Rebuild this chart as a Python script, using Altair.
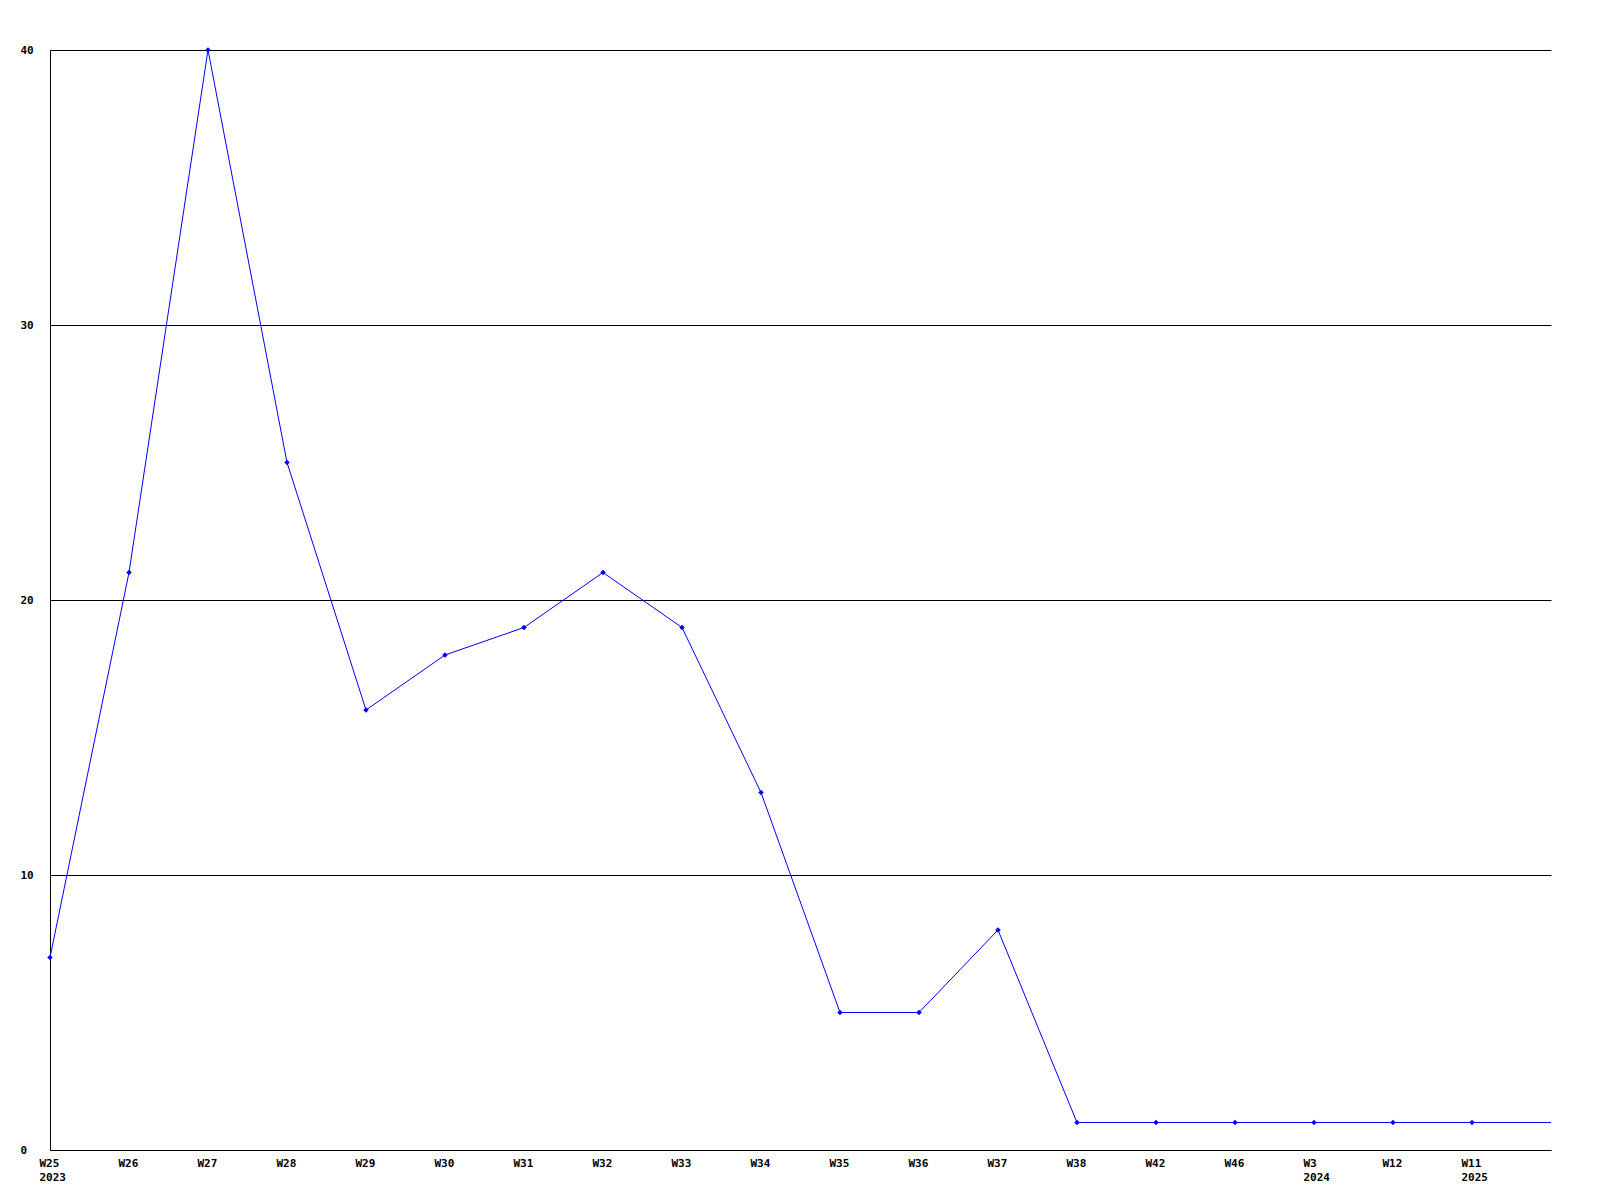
import altair as alt
import pandas as pd

weeks = ["W25", "W26", "W27", "W28", "W29", "W30", "W31", "W32", "W33", "W34",
         "W35", "W36", "W37", "W38", "W42", "W46", "W3", "W12", "W11"]
years = ["2023", "", "", "", "", "", "", "", "", "",
         "", "", "", "", "", "", "2024", "", "2025"]
values = [7, 21, 40, 25, 16, 18, 19, 21, 19, 13, 5, 5, 8, 1, 1, 1, 1, 1, 1]
tail_value = 1  # line continues to the right edge

n = len(weeks)
line_df = pd.DataFrame({"idx": list(range(n + 1)), "v": values + [tail_value]})
pt_df = pd.DataFrame({"idx": list(range(n)), "v": values})

label_arr = "[" + ",".join(
    "['%s','%s']" % (w, y) if y else "'%s'" % w for w, y in zip(weeks, years)
) + "]"
label_expr = label_arr + "[datum.value]"

W, H = 1501, 1100
FONT = "DejaVu Sans Mono"

x = alt.X("idx:Q", scale=alt.Scale(domain=[0, n], nice=False, zero=False),
          axis=alt.Axis(values=list(range(n)), labelExpr=label_expr, title=None,
                        grid=False, ticks=False, tickSize=0, labelAlign="left",
                        labelBaseline="top", labelOffset=-11, labelPadding=7,
                        labelLineHeight=14, labelFont=FONT, labelFontWeight="bold",
                        labelFontSize=11, labelColor="black", domainColor="black",
                        labelOverlap=False, labelFlush=False, labelBound=False))
y = alt.Y("v:Q", scale=alt.Scale(domain=[0, 40], nice=False),
          axis=alt.Axis(values=[0, 10, 20, 30, 40], title=None, grid=True,
                        gridColor="black", gridOpacity=1, gridWidth=1,
                        ticks=False, tickSize=0, labelAlign="left", labelPadding=30,
                        labelBaseline="middle", labelFont=FONT, labelFontWeight="bold",
                        labelFontSize=11, labelColor="black", domainColor="black",
                        labelOverlap=False, labelFlush=False, labelBound=False))

line = alt.Chart(line_df).mark_line(color="#0000ff", strokeWidth=1, clip=False).encode(x=x, y=y)
pts = alt.Chart(pt_df).mark_point(shape="diamond", filled=True, size=30, color="#0000ff",
                                  opacity=1).encode(x="idx:Q", y="v:Q")

chart = alt.layer(line, pts).properties(
    width=W, height=H,
    autosize=alt.AutoSizeParams(type="none"),
    padding={"left": 42, "top": 42, "right": 41, "bottom": 42},
    background="white",
).configure_view(stroke=None)

chart.save("out.html", embed_options={"renderer": "svg", "actions": False})
